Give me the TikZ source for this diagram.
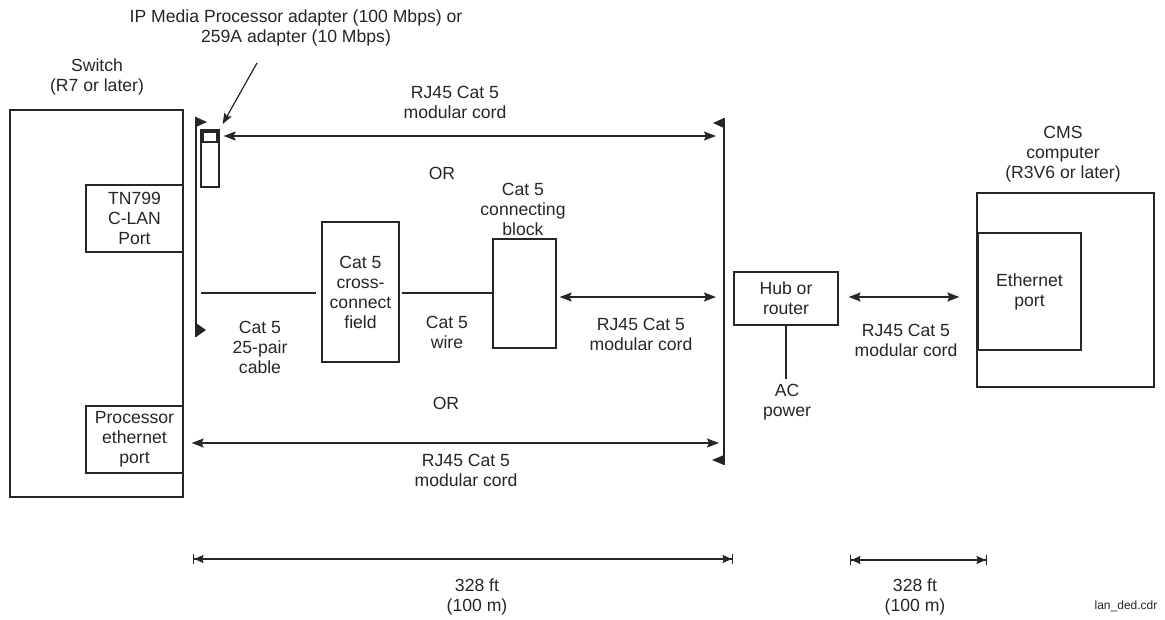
\documentclass[tikz,border=0pt]{standalone}
\usepackage{fontspec}
\setmainfont{Liberation Sans}
\usepackage{tikz}
\usetikzlibrary{positioning,arrows.meta}
\definecolor{ink}{HTML}{262626}

\begin{document}
\begin{tikzpicture}[
  x=1pt, y=-1pt,
  every node/.style={
    align=center,
    inner sep=0pt,
    text=ink,
    font=\fontsize{17.6}{20}\selectfont
  },
  box/.style={draw=ink, rectangle, line width=1.2pt},
  cord/.style={{Stealth[length=12pt,width=9pt,inset=2pt]}-{Stealth[length=12pt,width=9pt,inset=2pt]}, draw=ink, line width=1.6pt},
  wire/.style={draw=ink, line width=1.2pt},
  dimline/.style={{Bar[width=10pt,line width=1.4pt]Stealth[length=9pt,width=8pt,inset=1pt]}-{Stealth[length=9pt,width=8pt,inset=1pt]Bar[width=10pt,line width=1.4pt]}, draw=ink, line width=1.3pt},
  flag/.style={fill=ink, draw=none}
]
\useasboundingbox (0,0) rectangle (1165,619);

\node (toplbl) at (296,28) {IP Media Processor adapter (100 Mbps) or\\259A adapter (10 Mbps)};
\node (swlbl) at (97,77) {Switch\\(R7 or later)};

\node[box, minimum width=173pt, minimum height=387pt] (sw) at (96.5,303.5) {};
\node[box, minimum width=97pt, minimum height=67pt] (tn) at (134.5,218.5) {TN799\\C-LAN\\Port};
\node[box, minimum width=97pt, minimum height=67pt] (proc) at (134.5,439.5) {Processor\\ethernet\\port};

\node[box, minimum width=18pt, minimum height=57pt] (ad) at (210,158.5) {};
\node[box, minimum width=14pt, minimum height=10pt] (adtop) at (210,137) {};

\coordinate (lt) at (196,117);
\coordinate (lb) at (196,337);
\coordinate (rt) at (724,118);
\coordinate (rb) at (724,465);
\draw[wire] (lt) -- (lb);
\draw[wire] (rt) -- (rb);
\fill[flag] (lt) -- ++(11,5) -- ++(-11,5) -- cycle;
\fill[flag] (lb) -- ++(10,-7) -- ++(-10,-7) -- cycle;
\fill[flag] (rt) -- ++(-11,5) -- ++(11,5) -- cycle;
\fill[flag] (rb) -- ++(-12,-5) -- ++(12,-5) -- cycle;

\coordinate (p0) at (257,63);
\draw[wire, -{Stealth[length=11pt,width=8pt,inset=2pt]}, shorten >=6pt] (p0) -- (ad.north east);

\node (rj1) at (455,102) {RJ45 Cat 5\\modular cord};
\coordinate (r1) at (724,136);
\draw[cord, shorten <=4pt, shorten >=8pt] (ad.east |- r1) -- (r1);

\node (or1) at (442,173) {OR};

\node[box, minimum width=77pt, minimum height=140pt] (xc) at (360.5,292) {Cat 5\\cross-\\connect\\field};
\node[box, minimum width=63pt, minimum height=109pt] (cb) at (524.5,293.5) {};
\node (cblbl) at (523,209) {Cat 5\\connecting\\block};

\coordinate (c0) at (201,293);
\draw[wire, shorten >=5pt] (c0) -- (xc.west |- c0);
\draw[wire, shorten <=2pt] (xc.east |- c0) -- (cb.west |- c0);
\node (cab) at (260,347) {Cat 5\\25-pair\\cable};
\node (wr) at (447,332) {Cat 5\\wire};

\coordinate (r2) at (724,297);
\draw[cord, shorten <=3pt, shorten >=8pt] (cb.east |- r2) -- (r2);
\node (rj2) at (641,334) {RJ45 Cat 5\\modular cord};

\node (or2) at (446,403) {OR};

\coordinate (r3) at (724,443);
\draw[cord, shorten <=8pt, shorten >=5pt] (proc.east |- r3) -- (r3);
\node (rj3) at (466,470) {RJ45 Cat 5\\modular cord};

\node[box, minimum width=104pt, minimum height=53pt] (hub) at (786,298.5) {Hub or\\router};
\node (ac) at (787,402) {AC\\power};
\draw[wire, shorten >=5pt] (hub.south) -- (hub.south |- ac.north);

\node (cmslbl) at (1063,154) {CMS\\computer\\(R3V6 or later)};
\node[box, minimum width=177pt, minimum height=194pt] (cms) at (1065.5,290) {};
\node[box, minimum width=103pt, minimum height=117pt] (eth) at (1029.5,291.5) {Ethernet\\port};

\draw[cord, shorten <=10pt, shorten >=18pt] (hub.east |- r2) -- (eth.west |- r2);
\node (rj4) at (906,340) {RJ45 Cat 5\\modular cord};

\coordinate (d1a) at (193,559);
\coordinate (d1b) at (733,559);
\coordinate (d2a) at (850,560);
\coordinate (d2b) at (987,560);
\draw[dimline] (d1a) -- (d1b);
\draw[dimline] (d2a) -- (d2b);
\node (len1) at (477,597) {328 ft\\(100 m)};
\node (len2) at (915,597) {328 ft\\(100 m)};

\node[font=\fontsize{12}{14}\selectfont] (fname) at (1126,606) {lan\_ded.cdr};

\end{tikzpicture}
\end{document}
